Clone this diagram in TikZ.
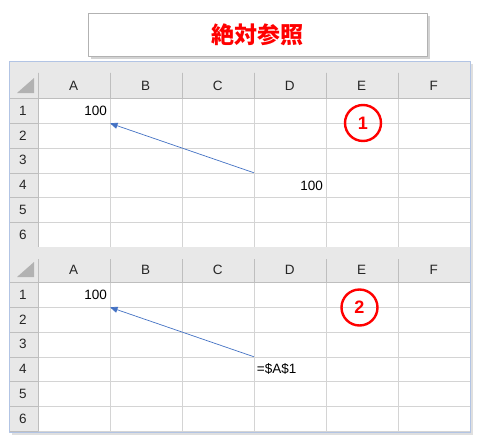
\documentclass[tikz,border=0pt]{standalone}
\usepackage{fontspec}
\setmainfont{Liberation Sans}
\newfontfamily\cjk{Noto Sans CJK JP}
\usetikzlibrary{arrows,shadows}
\definecolor{gridgray}{RGB}{212,212,212}
\definecolor{headgray}{RGB}{232,232,232}
\definecolor{headline}{RGB}{190,190,190}
\definecolor{frameblue}{RGB}{178,196,228}
\definecolor{arrowblue}{RGB}{68,114,196}
\definecolor{markred}{RGB}{255,0,0}
\newcommand{\cellfont}{\fontsize{13.5}{15}\selectfont}

\begin{document}
\begin{tikzpicture}[line cap=round,line join=round,>=triangle 45,x=1pt,y=-1pt,
	cell/.style={anchor=north west,text width=66pt,inner xsep=3pt,inner ysep=0pt,minimum height=24.9pt,font=\cellfont},
	headtext/.style={font=\cellfont,text=black!85},
	numcirc/.style={circle,draw=markred,line width=2.4pt,minimum size=36pt,inner sep=0pt,text=markred,font=\fontsize{18}{20}\selectfont\bfseries}]
		\useasboundingbox (0,0) rectangle (480,445);
		% title
		\node[draw=gray!60,fill=white,line width=0.8pt,minimum width=339pt,minimum height=43pt,
			drop shadow={shadow xshift=3pt,shadow yshift=-3pt,opacity=0.35}] (title) at (257.5,34.5)
			{\cjk\bfseries\fontsize{23}{26}\selectfont\color{markred}絶対参照};
		% frame
		\fill[white,drop shadow={shadow xshift=2pt,shadow yshift=-3pt,opacity=0.25}] (9.5,61) rectangle (470.5,432);
		\foreach \s/\top/\head in {1/98/61,2/282/247.3} {
			\fill[headgray] (9.5,\head) rectangle (470.5,\top);
			\fill[headgray] (9.5,\top) rectangle (37.7,\top+149.4);
			\fill[black!30] (17,\top-5) -- (34,\top-5) -- (34,\top-20) -- cycle;
			\foreach \i in {1,...,6}
				\draw[gridgray] (37.7+72*\i,\top) -- (37.7+72*\i,\top+149.4);
			\foreach \j in {1,...,6} {
				\draw[gridgray] (37.7,\top+24.9*\j) -- (469.7,\top+24.9*\j);
				\draw[headline] (9.5,\top+24.9*\j) -- (37.7,\top+24.9*\j);
			}
			\foreach \i in {0,...,5}
				\draw[headline] (37.7+72*\i,\head+12) -- (37.7+72*\i,\top);
			\draw[headline] (37.7,\top) -- (37.7,\top+149.4);
			\draw[headline] (9.5,\top) -- (469.7,\top);
			\foreach \c [count=\i from 0] in {A,...,F}
				\node[headtext] (col\c-\s) at (73.7+72*\i,\top-12.5) {\c};
			\foreach \r in {1,...,6}
				\node[headtext] (row\r-\s) at (23,\top+24.9*\r-12.45) {\r};
		}
		\draw[frameblue,line width=1pt] (9.5,61) rectangle (470.5,432);
		% cells
		\node[cell,align=right] (A1-1) at (37.7,98) {100};
		\node[cell,align=right] (D4-1) at (253.7,172.7) {100};
		\node[cell,align=right] (A1-2) at (37.7,282) {100};
		\node[cell,align=left] (D4-2) at (253.7,356.7) {=\$A\$1};
		% trace arrows
		\draw[->,arrowblue,line width=0.7pt] (D4-1.north west) -- (A1-1.south east);
		\draw[->,arrowblue,line width=0.7pt] (D4-2.north west) -- (A1-2.south east);
		% marks
		\node[numcirc] (mark1) at (363,123) {1};
		\node[numcirc] (mark2) at (359.5,307.5) {2};
	\end{tikzpicture}
\end{document}
